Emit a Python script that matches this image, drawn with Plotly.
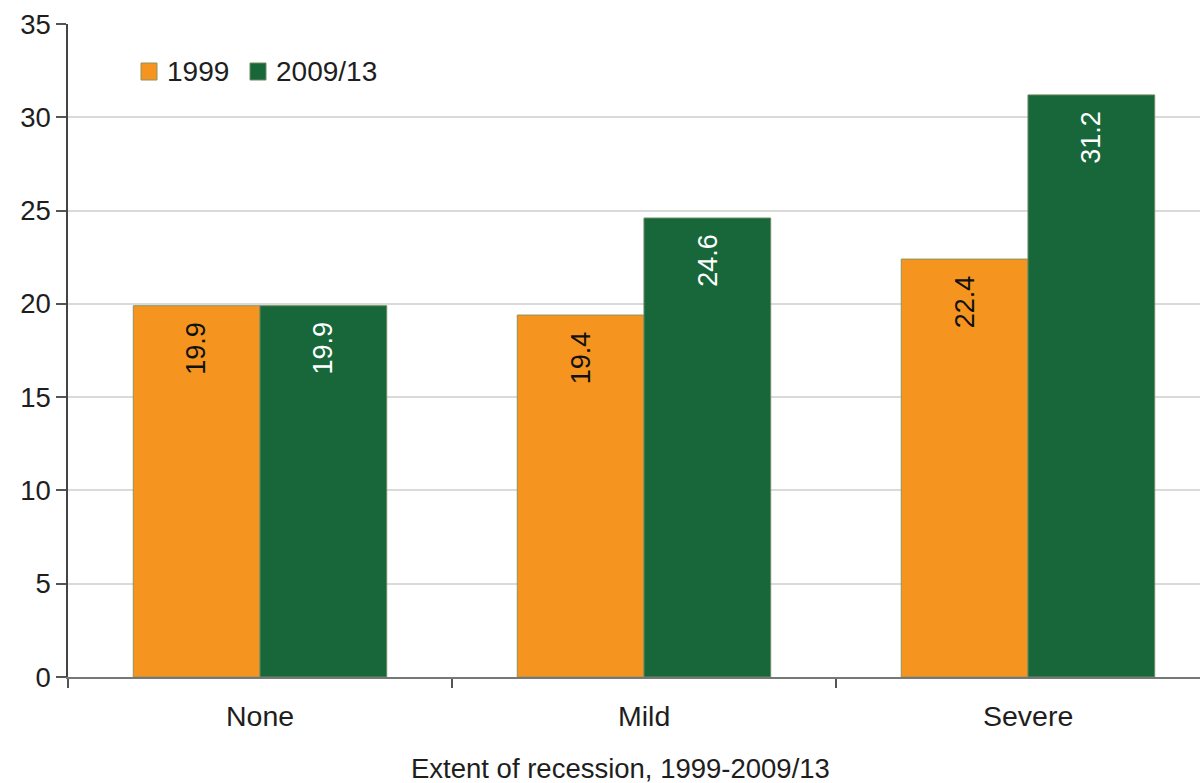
import plotly.graph_objects as go

# Extent of recession categories and the two survey periods
categories = ["None", "Mild", "Severe"]
series_names = ["1999", "2009/13"]
values_1999 = [19.9, 19.4, 22.4]
values_2009 = [19.9, 24.6, 31.2]
y_ticks = [0, 5, 10, 15, 20, 25, 30, 35]

ORANGE = "#F5951F"
GREEN = "#17673A"
FONT = "Liberation Sans, Arial, sans-serif"
TXT = "#1e1e1e"

fig = go.Figure()
fig.add_trace(go.Bar(
    name=series_names[0], x=categories, y=values_1999,
    marker=dict(color=ORANGE, line=dict(color="#8f9260", width=1)),
    showlegend=False,
))
fig.add_trace(go.Bar(
    name=series_names[1], x=categories, y=values_2009,
    marker=dict(color=GREEN, line=dict(color="#6f8a5e", width=1)),
    showlegend=False,
))

BARGAP = 0.34
half = (1 - BARGAP) / 4  # offset of each bar centre from the category centre

# Rotated value labels just inside the top of each bar
for vals, dx, col in [(values_1999, -half, "#111111"), (values_2009, half, "#ffffff")]:
    for i, v in enumerate(vals):
        fig.add_annotation(x=i + dx, y=v, xref="x", yref="y", text=f"{v:.1f}",
                           textangle=-90, showarrow=False, yanchor="top",
                           xanchor="center", yshift=-14,
                           font=dict(family=FONT, size=27, color=col))

fig.update_layout(
    width=1200, height=783,
    margin=dict(l=68, r=0, t=24, b=106),
    paper_bgcolor="white", plot_bgcolor="white",
    barmode="group", bargap=BARGAP, bargroupgap=0,
    font=dict(family=FONT, size=27, color=TXT),
    showlegend=False,
    xaxis=dict(
        range=[-0.5, 2.448], showgrid=False,
        showline=True, linecolor="#777777", linewidth=2,
        tickmode="array", tickvals=[-0.5, 0.5, 1.5], ticktext=["", "", ""],
        ticks="outside", ticklen=9, tickcolor="#555555", tickwidth=1.5,
        zeroline=False,
    ),
    yaxis=dict(
        range=[0, 35], tickvals=y_ticks,
        showgrid=True, gridcolor="#dadada", gridwidth=2,
        showline=True, linecolor="#444444", linewidth=1.5,
        ticks="outside", ticklen=10, tickcolor="#555555", tickwidth=1.5,
        tickfont=dict(size=27.5, color=TXT),
        zeroline=False,
    ),
)

# Category labels beneath each group
for i, c in enumerate(categories):
    fig.add_annotation(x=i, y=0, xref="x", yref="y", text=c, showarrow=False,
                       yshift=-39, font=dict(size=28.5, color=TXT))

# Axis title
PLOT_W, PLOT_H = 1132, 653
fig.add_annotation(x=(620 - 68) / PLOT_W, y=-(768 - 677) / PLOT_H,
                   xref="paper", yref="paper", text="Extent of recession, 1999-2009/13",
                   showarrow=False, xanchor="center", yanchor="middle",
                   font=dict(size=27.5, color=TXT))

# Legend: colour swatches with their series names
legend_items = [(series_names[0], ORANGE, "#8f9260", 141), (series_names[1], GREEN, "#6f8a5e", 250)]
for name, fill, edge, px in legend_items:
    x0 = (px - 68) / PLOT_W
    x1 = (px + 16 - 68) / PLOT_W
    y0 = (677 - 80) / PLOT_H
    y1 = (677 - 63) / PLOT_H
    fig.add_shape(type="rect", xref="paper", yref="paper", x0=x0, x1=x1, y0=y0, y1=y1,
                  fillcolor=fill, line=dict(color=edge, width=1))
    fig.add_annotation(x=(px + 24 - 68) / PLOT_W, y=(677 - 71.5) / PLOT_H,
                       xref="paper", yref="paper", text=name, showarrow=False,
                       xanchor="left", yanchor="middle",
                       font=dict(size=28, color=TXT))

fig.write_html("out.html")
